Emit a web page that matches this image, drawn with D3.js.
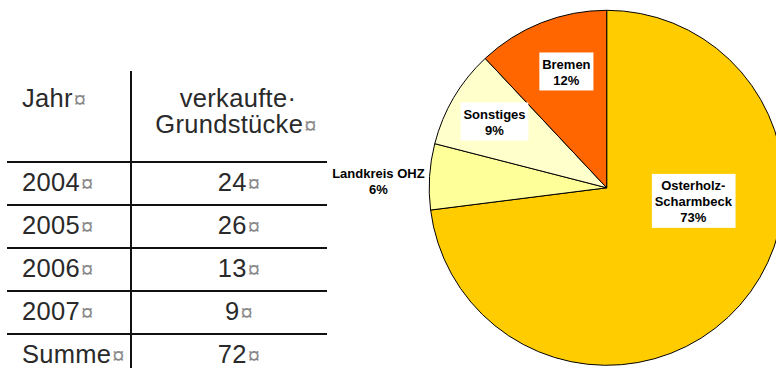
<!DOCTYPE html>
<html>
<head>
<meta charset="utf-8">
<script src="https://cdn.jsdelivr.net/npm/d3@7"></script>
<style>
  html, body { margin: 0; padding: 0; background: #fff; }
  svg { display: block; }
</style>
</head>
<body>
<svg id="chart" width="776" height="368"></svg>
<script>
// Table: plots sold per year
const years = ["2004", "2005", "2006", "2007"];
const soldPlots = [24, 26, 13, 9];
const totalLabel = "Summe";
const headerYear = "Jahr";
const headerSold = ["verkaufte·", "Grundstücke"];

// Pie: where the buyers come from (percent)
const regions = ["Osterholz-Scharmbeck", "Landkreis OHZ", "Sonstiges", "Bremen"];
const regionLines = [["Osterholz-", "Scharmbeck"], ["Landkreis OHZ"], ["Sonstiges"], ["Bremen"]];
const shares = [73, 6, 9, 12];
const sliceColors = ["#FFCC00", "#FFFF99", "#FFFFCC", "#FF6600"];
// label anchor per slice: angle (deg, clockwise from 12 o'clock) and radius as fraction of pie radius
const labelAngle = [98.9, 271.8, 300.4, 340.8];
const labelRadius = [0.494, 1.287, 0.733, 0.691];
const labelBoxed = [true, false, true, true];

const svg = d3.select("#chart");
const CELL_MARK = "¤";

// ---------- table ----------
const tableFont = "'Liberation Sans', Arial, sans-serif";
const rowLabels = years.concat([totalLabel]);
const rowValues = soldPlots.concat([d3.sum(soldPlots)]);

const rowY = d3.scaleBand()
  .domain(d3.range(rowLabels.length))
  .range([162, 162 + 43 * rowLabels.length])
  .paddingInner(0);

const tableLeft = 7, tableRight = 327, colSplit = 131, col2Center = 239;
const tbl = svg.append("g").attr("class", "table");

// horizontal rules above each body row
tbl.selectAll("line.row")
  .data(d3.range(rowLabels.length))
  .join("line")
  .attr("class", "row")
  .attr("x1", tableLeft).attr("x2", tableRight)
  .attr("y1", i => rowY(i)).attr("y2", i => rowY(i))
  .attr("stroke", "#111").attr("stroke-width", 2);

// column divider
tbl.append("line")
  .attr("x1", colSplit).attr("x2", colSplit)
  .attr("y1", 71).attr("y2", 368)
  .attr("stroke", "#111").attr("stroke-width", 2);

function cellText(g, x, y, str, anchor, mark) {
  const t = g.append("text")
    .attr("x", x).attr("y", y)
    .attr("text-anchor", anchor)
    .attr("font-family", tableFont)
    .attr("font-size", 25.5)
    .attr("letter-spacing", 0.3)
    .attr("fill", "#2a2a2a")
    .text(str);
  if (mark) {
    t.append("tspan")
      .attr("dx", 1)
      .attr("font-size", 22)
      .attr("fill", "#8a8a8a")
      .text(CELL_MARK);
  }
  return t;
}

// header
cellText(tbl, 22, 107, headerYear, "start", true);
cellText(tbl, col2Center - 1, 107, headerSold[0], "middle", false);
cellText(tbl, col2Center - 3, 133, headerSold[1], "middle", true);

// body rows
rowLabels.forEach((lab, i) => {
  const base = rowY(i) + 29;
  cellText(tbl, 22, base, lab, "start", true);
  cellText(tbl, col2Center, base, String(rowValues[i]), "middle", true);
});

// ---------- pie ----------
const cx = 606.7, cy = 187.8, radius = 177.5;
const pieData = regions.map((r, i) => ({ region: r, share: shares[i], i }));
const pie = d3.pie().sort(null).value(d => d.share);
const arc = d3.arc().innerRadius(0).outerRadius(radius);
const color = d3.scaleOrdinal().domain(regions).range(sliceColors);

const pg = svg.append("g").attr("transform", `translate(${cx},${cy})`);
const arcs = pie(pieData);

pg.selectAll("path.slice")
  .data(arcs)
  .join("path")
  .attr("class", "slice")
  .attr("d", arc)
  .attr("fill", d => color(d.data.region))
  .attr("stroke", "#000")
  .attr("stroke-width", 1)
  .attr("stroke-linejoin", "round");

// labels
const labelFont = "'Liberation Sans', Arial, sans-serif";
const lineH = 16;
arcs.forEach(a => {
  const i = a.data.i;
  const ang = labelAngle[i] * Math.PI / 180;
  const lr = labelRadius[i] * radius;
  const lx = Math.sin(ang) * lr;
  const ly = -Math.cos(ang) * lr;
  const lines = regionLines[i].concat([d3.format(".0f")(a.data.share) + "%"]);
  const n = lines.length;
  const g = pg.append("g").attr("class", "label");
  const box = g.append("rect").attr("fill", "#fff");
  const txt = g.append("text")
    .attr("text-anchor", "middle")
    .attr("font-family", labelFont)
    .attr("font-size", 13)
    .attr("font-weight", "bold")
    .attr("fill", "#000");
  lines.forEach((s, k) => {
    txt.append("tspan")
      .attr("x", lx)
      .attr("y", ly + (k - (n - 1) / 2) * lineH + 5)
      .text(s);
  });
  if (labelBoxed[i]) {
    const bb = txt.node().getBBox();
    const top = ly - (n - 1) / 2 * lineH + 5 - 16.5;
    const bottom = ly + (n - 1) / 2 * lineH + 5 + 5.5;
    box.attr("x", bb.x - 2.8).attr("width", bb.width + 5.6)
      .attr("y", top).attr("height", bottom - top);
  } else {
    box.remove();
  }
});
</script>
</body>
</html>
